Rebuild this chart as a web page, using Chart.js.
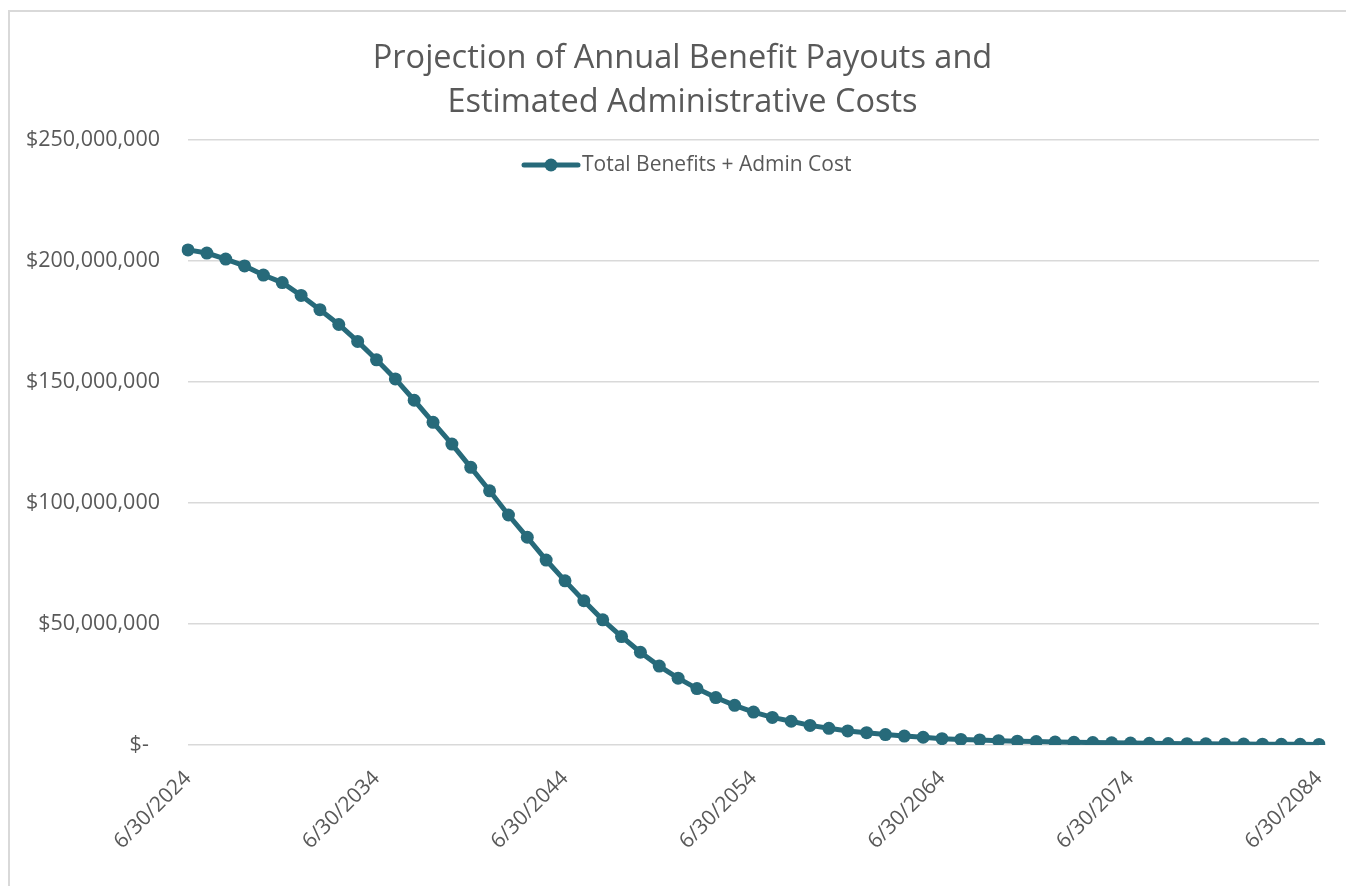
<!DOCTYPE html>
<html>
<head>
<meta charset="utf-8">
<script src="https://cdn.jsdelivr.net/npm/chart.js@4/dist/chart.umd.min.js"></script>
<style>
  html, body { margin: 0; padding: 0; background: #fff; overflow: hidden; }
  #frame { position: absolute; left: 8px; top: 10px; width: 1400px; height: 940px;
           border-left: 2px solid #d9d9d9; border-top: 2px solid #d9d9d9; }
  #myChart { position: absolute; left: 0; top: 0; }
</style>
</head>
<body>
<div id="frame"></div>
<canvas id="myChart" width="1346" height="886"></canvas>
<script>
const lineColor = '#276a7a';
const textColor = '#595959';
const gridColor = '#d9d9d9';

const chartTitle = ['Projection of Annual Benefit Payouts and', 'Estimated Administrative Costs'];
const seriesName = 'Total Benefits + Admin Cost';

const dates = [
  '6/30/2024', '6/30/2025', '6/30/2026', '6/30/2027', '6/30/2028', '6/30/2029', '6/30/2030', '6/30/2031',
  '6/30/2032', '6/30/2033', '6/30/2034', '6/30/2035', '6/30/2036', '6/30/2037', '6/30/2038', '6/30/2039',
  '6/30/2040', '6/30/2041', '6/30/2042', '6/30/2043', '6/30/2044', '6/30/2045', '6/30/2046', '6/30/2047',
  '6/30/2048', '6/30/2049', '6/30/2050', '6/30/2051', '6/30/2052', '6/30/2053', '6/30/2054', '6/30/2055',
  '6/30/2056', '6/30/2057', '6/30/2058', '6/30/2059', '6/30/2060', '6/30/2061', '6/30/2062', '6/30/2063',
  '6/30/2064', '6/30/2065', '6/30/2066', '6/30/2067', '6/30/2068', '6/30/2069', '6/30/2070', '6/30/2071',
  '6/30/2072', '6/30/2073', '6/30/2074', '6/30/2075', '6/30/2076', '6/30/2077', '6/30/2078', '6/30/2079',
  '6/30/2080', '6/30/2081', '6/30/2082', '6/30/2083', '6/30/2084'
];

const totalCost = [
  204500000, 203200000, 200700000, 197900000, 194100000, 191000000, 185700000, 179800000,
  173700000, 166700000, 159100000, 151200000, 142400000, 133300000, 124300000, 114700000,
  105000000, 95000000, 85800000, 76400000, 67800000, 59600000, 51700000, 44800000,
  38300000, 32600000, 27600000, 23300000, 19600000, 16400000, 13600000, 11400000,
  9800000, 8100000, 6900000, 5800000, 5100000, 4300000, 3700000, 3200000,
  2600000, 2300000, 2100000, 1800000, 1600000, 1400000, 1200000, 1100000,
  1000000, 900000, 800000, 700000, 600000, 550000, 500000, 450000,
  400000, 350000, 300000, 280000, 250000
];

const labelEvery = 10;

// Excel-style legend sitting inside the plot area
const floatingLegend = {
    id: 'floatingLegend',
    afterLayout(chart) {
        // the title in the original sits a little right of centre
        chart.titleBlock.left += 23;
        chart.titleBlock.right += 23;
    },
    afterDraw(chart) {
        const ctx = chart.ctx;
        const y = 165;
        ctx.save();
        ctx.strokeStyle = lineColor;
        ctx.lineWidth = 5;
        ctx.lineCap = 'round';
        ctx.beginPath();
        ctx.moveTo(524, y);
        ctx.lineTo(578, y);
        ctx.stroke();
        ctx.fillStyle = lineColor;
        ctx.beginPath();
        ctx.arc(551, y, 6.5, 0, Math.PI * 2);
        ctx.fill();
        ctx.fillStyle = textColor;
        ctx.font = '21px "Open Sans"';
        ctx.textAlign = 'left';
        ctx.textBaseline = 'middle';
        ctx.fillText(seriesName, 582, y);
        ctx.restore();
    }
};

const data = {
    labels: dates,
    datasets: [{
        label: seriesName,
        data: totalCost,
        borderColor: lineColor,
        backgroundColor: lineColor,
        borderWidth: 5,
        pointRadius: 6.5,
        pointBorderWidth: 0,
        pointBackgroundColor: lineColor,
        tension: 0
    }]
};

const config = {
    type: 'line',
    data: data,
    options: {
        responsive: false,
        animation: false,
        layout: { padding: { left: 0, right: 27, top: 0, bottom: 0 } },
        plugins: {
            legend: { display: false },
            tooltip: { enabled: false },
            title: {
                display: true,
                text: chartTitle,
                color: textColor,
                font: { family: '"Open Sans"', size: 32.5, weight: 'normal', lineHeight: 1.35 },
                padding: { top: 37, bottom: 15 }
            }
        },
        scales: {
            x: {
                grid: { display: false, drawTicks: false },
                border: { display: false },
                ticks: {
                    autoSkip: false,
                    minRotation: 45,
                    maxRotation: 45,
                    padding: 21,
                    color: textColor,
                    font: { family: '"Open Sans"', size: 21 },
                    callback: function (val, idx) {
                        return idx % labelEvery === 0 ? this.getLabelForValue(val) : null;
                    }
                },
                afterFit: (scale) => {
                    scale.height = 141;
                    scale.paddingRight = 0;
                }
            },
            y: {
                min: 0,
                max: 250000000,
                grid: { color: gridColor, lineWidth: 1.5, drawTicks: false },
                border: { display: false },
                ticks: {
                    stepSize: 50000000,
                    padding: 28,
                    color: textColor,
                    font: { family: '"Open Sans"', size: 21.5 },
                    callback: (v) => v === 0 ? '$-  ' : '$' + v.toLocaleString('en-US')
                },
                afterFit: (scale) => { scale.width = 188; }
            }
        }
    },
    plugins: [floatingLegend]
};

new Chart(document.getElementById('myChart'), config);
</script>
</body>
</html>
